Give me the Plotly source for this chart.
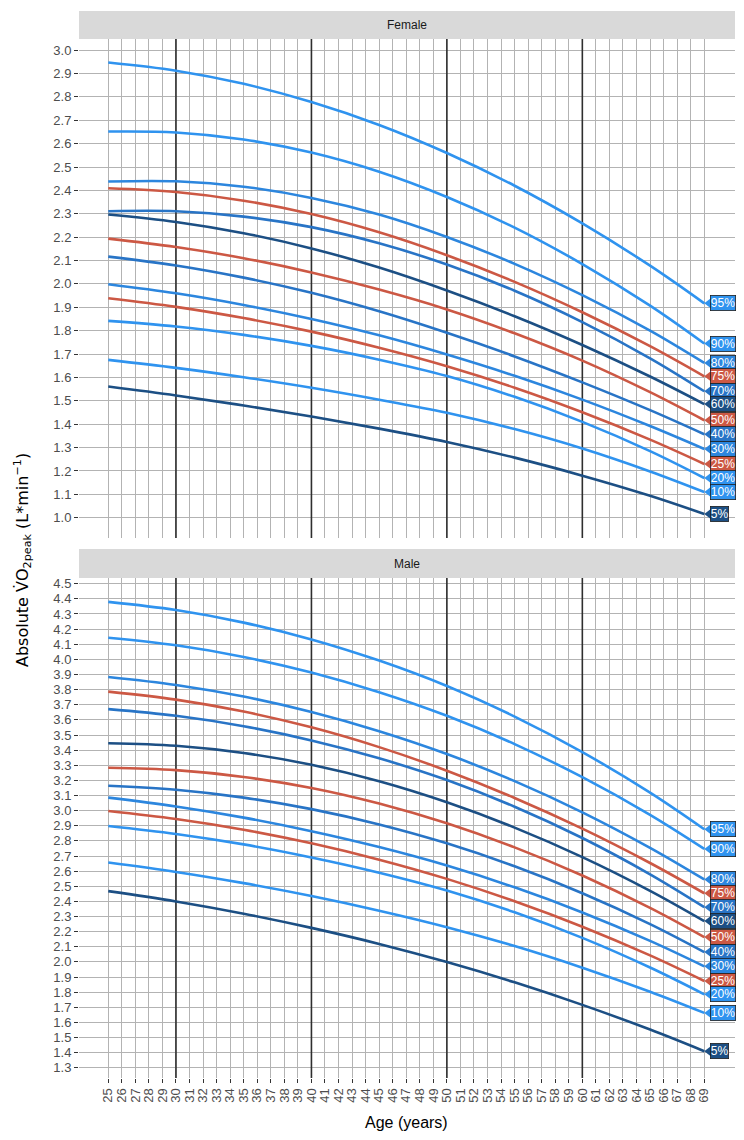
import plotly.graph_objects as go

# ---------------- data ----------------
AGES = [25, 30, 35, 40, 45, 50, 55, 60, 65, 69]
PERCENTILES = ["95%", "90%", "80%", "75%", "70%", "60%", "50%", "40%", "30%", "25%", "20%", "10%", "5%"]

FEMALE_95 = [2.947, 2.912, 2.856, 2.778, 2.680, 2.560, 2.420, 2.259, 2.078, 1.917]
FEMALE_90 = [2.652, 2.648, 2.618, 2.562, 2.480, 2.372, 2.241, 2.085, 1.907, 1.745]
FEMALE_80 = [2.438, 2.439, 2.416, 2.368, 2.297, 2.201, 2.086, 1.952, 1.800, 1.662]
FEMALE_75 = [2.409, 2.393, 2.356, 2.299, 2.221, 2.123, 2.009, 1.879, 1.734, 1.605]
FEMALE_70 = [2.311, 2.311, 2.288, 2.243, 2.174, 2.083, 1.971, 1.837, 1.682, 1.541]
FEMALE_60 = [2.297, 2.265, 2.217, 2.152, 2.070, 1.972, 1.862, 1.739, 1.604, 1.486]
FEMALE_50 = [2.194, 2.158, 2.110, 2.049, 1.976, 1.891, 1.789, 1.672, 1.537, 1.417]
FEMALE_40 = [2.117, 2.079, 2.027, 1.962, 1.883, 1.791, 1.690, 1.579, 1.460, 1.357]
FEMALE_30 = [1.999, 1.960, 1.910, 1.850, 1.780, 1.698, 1.607, 1.505, 1.392, 1.294]
FEMALE_25 = [1.939, 1.902, 1.854, 1.796, 1.727, 1.648, 1.556, 1.451, 1.334, 1.230]
FEMALE_20 = [1.842, 1.818, 1.782, 1.735, 1.676, 1.606, 1.517, 1.410, 1.285, 1.170]
FEMALE_10 = [1.675, 1.641, 1.601, 1.556, 1.505, 1.449, 1.379, 1.296, 1.198, 1.110]
FEMALE_05 = [1.561, 1.523, 1.480, 1.433, 1.381, 1.324, 1.257, 1.180, 1.094, 1.016]

MALE_95 = [4.380, 4.326, 4.243, 4.132, 3.992, 3.824, 3.622, 3.387, 3.119, 2.877]
MALE_90 = [4.143, 4.093, 4.016, 3.913, 3.783, 3.627, 3.440, 3.221, 2.972, 2.747]
MALE_80 = [3.884, 3.831, 3.754, 3.652, 3.525, 3.374, 3.195, 2.989, 2.754, 2.545]
MALE_75 = [3.787, 3.734, 3.655, 3.551, 3.420, 3.264, 3.084, 2.881, 2.654, 2.454]
MALE_70 = [3.671, 3.627, 3.558, 3.464, 3.346, 3.202, 3.026, 2.819, 2.579, 2.362]
MALE_60 = [3.446, 3.429, 3.381, 3.303, 3.194, 3.055, 2.888, 2.693, 2.470, 2.270]
MALE_50 = [3.284, 3.268, 3.223, 3.150, 3.047, 2.916, 2.757, 2.571, 2.357, 2.164]
MALE_40 = [3.165, 3.138, 3.086, 3.010, 2.909, 2.784, 2.632, 2.454, 2.250, 2.065]
MALE_30 = [3.086, 3.028, 2.954, 2.864, 2.759, 2.637, 2.493, 2.327, 2.139, 1.971]
MALE_25 = [2.998, 2.945, 2.874, 2.784, 2.676, 2.549, 2.401, 2.233, 2.043, 1.874]
MALE_20 = [2.899, 2.846, 2.777, 2.691, 2.590, 2.472, 2.328, 2.159, 1.963, 1.786]
MALE_10 = [2.657, 2.595, 2.521, 2.436, 2.339, 2.230, 2.105, 1.962, 1.803, 1.663]
MALE_05 = [2.468, 2.400, 2.319, 2.225, 2.119, 1.999, 1.865, 1.716, 1.553, 1.410]

FEMALE = [FEMALE_95, FEMALE_90, FEMALE_80, FEMALE_75, FEMALE_70, FEMALE_60, FEMALE_50,
          FEMALE_40, FEMALE_30, FEMALE_25, FEMALE_20, FEMALE_10, FEMALE_05]
MALE = [MALE_95, MALE_90, MALE_80, MALE_75, MALE_70, MALE_60, MALE_50,
        MALE_40, MALE_30, MALE_25, MALE_20, MALE_10, MALE_05]

DECADE_LINES = [30, 40, 50, 60]
X_TICKS = list(range(25, 70))
PANELS = ["Female", "Male"]

# ---------------- style ----------------
LIGHT = "#2f93ef"
LIGHT2 = "#2c86de"
MED = "#2874c6"
NAVY = "#1c4f84"
RED = "#cc5844"
COLORS = [LIGHT, LIGHT, LIGHT2, RED, MED, NAVY, RED, MED, LIGHT2, RED, LIGHT, LIGHT, NAVY]

W, H = 744, 1140
PX_L, PX_R = 79, 735
F_TOP, F_BOT = 37, 537
M_TOP, M_BOT = 577, 1078
F_STRIP = (9, 37)
M_STRIP = (548, 577)
XRANGE = [22.84, 71.27]
F_YRANGE = [0.913, 3.048]
M_YRANGE = [1.232, 4.538]

GRID = "#b3b3b3"
FONT = "Liberation Sans, Arial, sans-serif"


def py(p):
    return 1 - p / H


fig = go.Figure()

px_per_year = (PX_R - PX_L) / (XRANGE[1] - XRANGE[0])
TAG_OFF = 5.0 / px_per_year

for panel, data, yr in (("top", FEMALE, F_YRANGE), ("bot", MALE, M_YRANGE)):
    xa = "x" if panel == "top" else "x2"
    ya = "y" if panel == "top" else "y2"
    # decade reference lines (drawn as a trace so they sit above the grid)
    vx, vy = [], []
    for d in DECADE_LINES:
        vx += [d, d, None]
        vy += [yr[0], yr[1], None]
    fig.add_trace(go.Scatter(x=vx, y=vy, mode="lines", xaxis=xa, yaxis=ya,
                             line=dict(color="#2e2e2e", width=1.6),
                             hoverinfo="skip", showlegend=False, cliponaxis=True))
    for name, vals, col in zip(PERCENTILES, data, COLORS):
        fig.add_trace(go.Scatter(
            x=AGES, y=vals, mode="lines", xaxis=xa, yaxis=ya,
            line=dict(color=col, width=2.6, shape="spline", smoothing=1.0),
            hoverinfo="skip", showlegend=False))
    # pointer triangles of the end tags
    fig.add_trace(go.Scatter(
        x=[AGES[-1] + TAG_OFF] * len(data), y=[v[-1] for v in data],
        mode="markers", xaxis=xa, yaxis=ya, cliponaxis=False,
        marker=dict(symbol="triangle-left", size=10, color=COLORS,
                    line=dict(width=0)),
        hoverinfo="skip", showlegend=False))
    for name, vals, col in zip(PERCENTILES, data, COLORS):
        fig.add_annotation(
            x=AGES[-1], y=vals[-1], xref=xa, yref=ya, text=name,
            showarrow=False, xanchor="left", yanchor="middle", xshift=6,
            font=dict(family=FONT, size=12, color="white"),
            bgcolor=col, bordercolor="#1f1f1f", borderwidth=0.8, borderpad=0)

# strips
for (t, b), label in zip((F_STRIP, M_STRIP), PANELS):
    fig.add_shape(type="rect", xref="paper", yref="paper",
                  x0=PX_L / W, x1=PX_R / W, y0=py(b), y1=py(t),
                  fillcolor="#d9d9d9", line=dict(width=0), layer="below")
    fig.add_annotation(x=(PX_L + PX_R) / 2 / W, y=py((t + b) / 2), xref="paper", yref="paper",
                       text=label, showarrow=False, xanchor="center", yanchor="middle",
                       font=dict(family=FONT, size=12, color="#1a1a1a"))

# axis titles
fig.add_annotation(x=(PX_L + PX_R) / 2 / W, y=py(1122), xref="paper", yref="paper",
                   text="Age (years)", showarrow=False, xanchor="center", yanchor="middle",
                   font=dict(family=FONT, size=16, color="black"))
fig.add_annotation(x=22 / W, y=py(559), xref="paper", yref="paper",
                   text="Absolute V\u0307O<sub>2peak</sub> (L*min<sup>\u22121</sup>)",
                   textangle=-90, showarrow=False, xanchor="center", yanchor="middle",
                   font=dict(family="DejaVu Sans, Liberation Sans, sans-serif", size=16, color="black"))

xcommon = dict(range=XRANGE, tickmode="array", tickvals=X_TICKS, ticktext=[str(v) for v in X_TICKS],
               showgrid=True, gridcolor=GRID, gridwidth=1, zeroline=False, showline=False,
               domain=[PX_L / W, PX_R / W], fixedrange=True)
ycommon = dict(tickmode="linear", dtick=0.1, tickformat=".1f", showgrid=True, gridcolor=GRID,
               gridwidth=1, zeroline=False, showline=False, ticks="outside", ticklen=4,
               tickcolor="#333333", tickwidth=1,
               tickfont=dict(family=FONT, size=13, color="#4d4d4d"), fixedrange=True)

fig.update_layout(
    width=W, height=H, margin=dict(l=0, r=0, t=0, b=0),
    plot_bgcolor="white", paper_bgcolor="white", showlegend=False,
    font=dict(family=FONT),
    xaxis=dict(**xcommon, anchor="y", showticklabels=False, ticks=""),
    xaxis2=dict(**xcommon, anchor="y2", ticks="outside", ticklen=4, tickcolor="#333333",
                tickangle=-90, tickfont=dict(family=FONT, size=13, color="#4d4d4d")),
    yaxis=dict(**ycommon, anchor="x", domain=[py(F_BOT), py(F_TOP)], range=F_YRANGE, tick0=1.0),
    yaxis2=dict(**ycommon, anchor="x2", domain=[py(M_BOT), py(M_TOP)], range=M_YRANGE, tick0=1.3),
)

fig.write_html("out.html", config={"displayModeBar": False, "staticPlot": True},
               post_script="document.body.style.margin='0';document.body.style.padding='0';")
